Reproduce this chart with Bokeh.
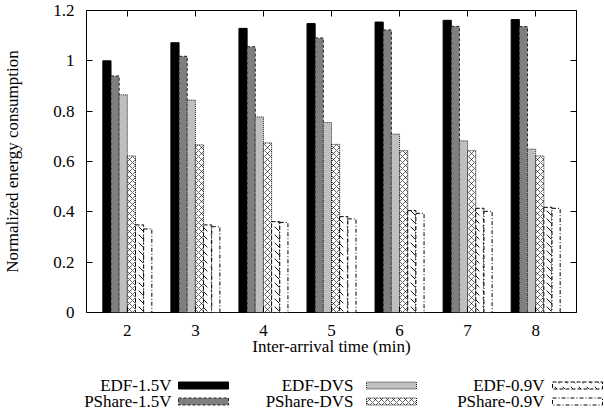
from bokeh.plotting import figure
from bokeh.models import ColumnDataSource, FixedTicker, LinearAxis, Range1d
from bokeh.transform import dodge
from bokeh.core.properties import value
from bokeh.embed import file_html
from bokeh.resources import INLINE

# ---- data ----
groups = [2, 3, 4, 5, 6, 7, 8]
series = ["EDF-1.5V", "PShare-1.5V", "EDF-DVS", "PShare-DVS", "EDF-0.9V", "PShare-0.9V"]
edf_15 = [1.00, 1.072, 1.129, 1.148, 1.154, 1.161, 1.164]
pshare_15 = [0.94, 1.018, 1.056, 1.091, 1.123, 1.137, 1.136]
edf_dvs = [0.865, 0.844, 0.777, 0.755, 0.709, 0.682, 0.649]
pshare_dvs = [0.622, 0.666, 0.674, 0.668, 0.643, 0.643, 0.622]
edf_09 = [0.348, 0.348, 0.361, 0.381, 0.405, 0.414, 0.418]
pshare_09 = [0.332, 0.341, 0.358, 0.372, 0.394, 0.402, 0.414]
y_ticks = [0, 0.2, 0.4, 0.6, 0.8, 1.0, 1.2]
y_tick_labels = ["0", "0.2", "0.4", "0.6", "0.8", "1", "1.2"]

values_list = [edf_15, pshare_15, edf_dvs, pshare_dvs, edf_09, pshare_09]

FONT = "Liberation Serif"
FS = "17px"

styles = [
    dict(fill_color="black", line_color="black", line_dash="solid"),
    dict(fill_color="#7f7f7f", line_color="#222222", line_dash="3 2"),
    dict(fill_color="#bfbfbf", line_color="#222222", line_dash="1 1"),
    dict(fill_color="white", line_color="black", line_dash="1 1",
         hatch_pattern="diagonal_cross", hatch_color="black", hatch_scale=6, hatch_weight=0.6),
    dict(fill_color="white", line_color="black", line_dash="4 2",
         hatch_pattern="left_diagonal_dash", hatch_color="black", hatch_scale=8, hatch_weight=0.9),
    dict(fill_color="white", line_color="black", line_dash="4 2 1 2"),
]

data = {"x": groups}
for name, vals in zip(series, values_list):
    data[name] = vals
src = ColumnDataSource(data)

# frame placement in page px (page renders with no offset)
FL, FR, FT, FB = 85, 575, 10, 312
p = figure(frame_width=FR - FL, frame_height=FB - FT,
           x_range=Range1d(1.4, 8.6), y_range=Range1d(0, 1.2),
           output_backend="svg", toolbar_location=None,
           min_border_left=FL, min_border_right=603 - FR, min_border_top=FT,
           min_border_bottom=418 - FB)
p.xgrid.visible = False
p.ygrid.visible = False
p.outline_line_color = "black"
p.outline_line_width = 1

bw = 0.12
n = len(series)
for i, name in enumerate(series):
    off = (i - (n - 1) / 2) * bw
    p.vbar(x=dodge("x", off, range=p.x_range), top=name, width=bw, bottom=0, source=src,
           line_width=1, **styles[i])

# axes styling
for ax in [p.xaxis[0], p.yaxis[0]]:
    ax.major_tick_in = 6
    ax.major_tick_out = 0
    ax.minor_tick_line_color = None
    ax.axis_line_color = None
    ax.major_label_text_font = FONT
    ax.major_label_text_font_size = FS
    ax.major_label_text_color = "black"
    ax.axis_label_text_font = FONT
    ax.axis_label_text_font_size = FS
    ax.axis_label_text_font_style = "normal"
    ax.axis_label_text_color = "black"
    ax.major_tick_line_color = "black"

p.xaxis[0].ticker = FixedTicker(ticks=groups)
p.xaxis[0].axis_label = "Inter-arrival time (min)"
p.xaxis[0].major_label_standoff = 12
p.xaxis[0].axis_label_standoff = -2

p.yaxis[0].ticker = FixedTicker(ticks=y_ticks)
p.yaxis[0].major_label_overrides = {t: l for t, l in zip(y_ticks, y_tick_labels)}
p.yaxis[0].axis_label = "Normalized energy consumption"
p.yaxis[0].major_label_standoff = 12
p.yaxis[0].axis_label_standoff = 28

for ticks, loc in [(groups, "above"), (y_ticks, "right")]:
    ax = LinearAxis(ticker=FixedTicker(ticks=ticks), major_label_text_font_size="0px",
                    major_label_text_color=None, major_label_standoff=0,
                    major_tick_in=6, major_tick_out=0, minor_tick_line_color=None,
                    axis_line_color=None, major_tick_line_color="black")
    p.add_layout(ax, loc)

# ---- legend: page-pixel ranges, drawn unclipped below the axis ----
p.extra_x_ranges["lx"] = Range1d(FL, FR)
p.extra_y_ranges["ly"] = Range1d(FB, FT)

sw_left = [177, 365, 551]
text_right = [170, 352, 543]
row_y = [385, 401]
for i, name in enumerate(series):
    c, r = i // 2, i % 2
    p.rect(x=[sw_left[c] + 25], y=[row_y[r]], width=50, height=7, line_width=1,
           x_range_name="lx", y_range_name="ly", level="overlay", **styles[i])
    p.text(x=[text_right[c]], y=[row_y[r]], text=[name], text_align="right",
           text_baseline="middle", text_font=value(FONT), text_font_size=FS,
           text_color="black", x_range_name="lx", y_range_name="ly", level="overlay")

open("out.html", "w").write(file_html(p, INLINE))
